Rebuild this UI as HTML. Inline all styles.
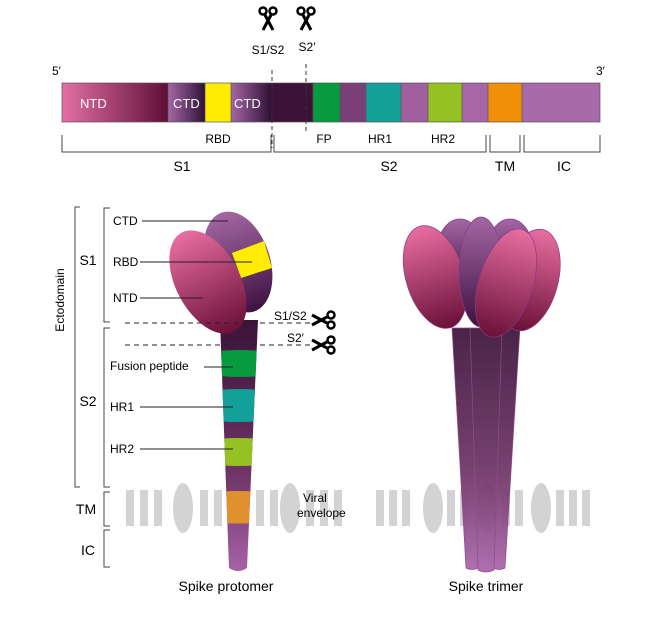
<!DOCTYPE html>
<html><head><meta charset="utf-8"><style>
html,body{margin:0;padding:0;background:#fff;}
svg{display:block;font-family:"Liberation Sans",sans-serif;}
</style></head><body>
<svg width="650" height="639" viewBox="0 0 650 639" xmlns="http://www.w3.org/2000/svg">
<defs>
<linearGradient id="ntd" x1="0" x2="1" y1="0" y2="0"><stop offset="0" stop-color="#e46fa6"/><stop offset="1" stop-color="#5e0f36"/></linearGradient>
<linearGradient id="ctd" x1="0" x2="1" y1="0" y2="0"><stop offset="0" stop-color="#a567a6"/><stop offset="1" stop-color="#301136"/></linearGradient>
<linearGradient id="pinkv" x1="0" x2="0" y1="0" y2="1"><stop offset="0" stop-color="#e86ea2"/><stop offset="1" stop-color="#6a1038"/></linearGradient>
<linearGradient id="purpv" x1="0" x2="0" y1="0" y2="1"><stop offset="0" stop-color="#a467a4"/><stop offset="1" stop-color="#3d1240"/></linearGradient>
<linearGradient id="stalk" x1="0" x2="0" y1="0" y2="1"><stop offset="0" stop-color="#3a1238"/><stop offset="0.6" stop-color="#6e3366"/><stop offset="1" stop-color="#a864a8"/></linearGradient>
<g id="sc" fill="none" stroke="#000" stroke-width="2.5">
<circle cx="-5" cy="-9" r="3.5"/><circle cx="5" cy="-9" r="3.5"/>
<path d="M-3 -5 L5 10 M3 -5 L-5 10" stroke-width="3"/>
</g>
</defs>

<!-- top linear map -->
<text x="52" y="75" font-size="12">5′</text>
<text x="596" y="75" font-size="12">3′</text>
<use href="#sc" transform="translate(268,20)"/>
<use href="#sc" transform="translate(306,20)"/>
<text x="268" y="54" font-size="12" text-anchor="middle">S1/S2</text>
<text x="307" y="51" font-size="12" text-anchor="middle">S2′</text>
<rect x="62" y="83" width="106" height="39" fill="url(#ntd)"/>
<rect x="168" y="83" width="37" height="39" fill="url(#ctd)"/>
<rect x="205" y="83" width="26" height="39" fill="#ffec00"/>
<rect x="231" y="83" width="40" height="39" fill="url(#ctd)"/>
<rect x="271" y="83" width="42" height="39" fill="#3d1238"/>
<rect x="313" y="83" width="27" height="39" fill="#079a3f"/>
<rect x="340" y="83" width="26" height="39" fill="#7a4078"/>
<rect x="366" y="83" width="35" height="39" fill="#12a099"/>
<rect x="401" y="83" width="27" height="39" fill="#a060a0"/>
<rect x="428" y="83" width="34" height="39" fill="#95c122"/>
<rect x="462" y="83" width="26" height="39" fill="#a866a6"/>
<rect x="488" y="83" width="34" height="39" fill="#f18f08"/>
<rect x="522" y="83" width="78" height="39" fill="#a86aa8"/>
<g stroke="#555" stroke-width="0.7" fill="none">
<rect x="62" y="83" width="538" height="39"/>
<path d="M168 83V122M205 83V122M231 83V122M313 83V122M340 83V122M366 83V122M401 83V122M428 83V122M462 83V122M488 83V122M522 83V122"/>
</g>
<text x="80" y="108" font-size="13" fill="#fff">NTD</text>
<text x="173" y="108" font-size="13" fill="#fff">CTD</text>
<text x="234" y="108" font-size="13" fill="#fff">CTD</text>
<g stroke="#333" stroke-width="1" stroke-dasharray="4,3"><path d="M272 70V148"/><path d="M306 64V132"/></g>
<g stroke="#444" stroke-width="1" fill="none">
<path d="M62 135V152H271V135"/>
<path d="M274 135V152H486V135"/>
<path d="M490 135V152H520V135"/>
<path d="M524 135V152H600V135"/>
</g>
<text x="218" y="143" font-size="12" text-anchor="middle">RBD</text>
<text x="324" y="143" font-size="12" text-anchor="middle">FP</text>
<text x="380" y="143" font-size="12" text-anchor="middle">HR1</text>
<text x="443" y="143" font-size="12" text-anchor="middle">HR2</text>
<text x="182" y="171" font-size="14" text-anchor="middle">S1</text>
<text x="389" y="171" font-size="14" text-anchor="middle">S2</text>
<text x="505" y="171" font-size="14" text-anchor="middle">TM</text>
<text x="564" y="171" font-size="14" text-anchor="middle">IC</text>

<!-- protomer membrane -->
<g fill="#d3d3d3">
<rect x="126" y="490" width="8" height="36"/><rect x="140" y="490" width="8" height="36"/><rect x="154" y="490" width="8" height="36"/>
<ellipse cx="183" cy="508" rx="10" ry="25"/>
<rect x="200" y="490" width="8" height="36"/><rect x="214" y="490" width="8" height="36"/>
<rect x="256" y="490" width="8" height="36"/><rect x="270" y="490" width="8" height="36"/>
<ellipse cx="290" cy="508" rx="10" ry="25"/>
<rect x="306" y="490" width="8" height="36"/><rect x="320" y="490" width="8" height="36"/><rect x="334" y="490" width="8" height="36"/>
</g>
<!-- protomer stalk -->
<clipPath id="stk"><path d="M220 320 L258 320 L247 568 Q238 574 229 568 Z"/></clipPath>
<g clip-path="url(#stk)">
<rect x="210" y="315" width="60" height="260" fill="url(#stalk)"/>
<path d="M210 352 Q238 348 270 352 V375 Q238 379 210 375Z" fill="#079a3f"/>
<path d="M210 391 Q238 387 270 391 V420 Q238 424 210 420Z" fill="#12a099"/>
<path d="M210 440 Q238 436 270 440 V464 Q238 468 210 464Z" fill="#95c122"/>
<path d="M210 493 Q238 489 270 493 V522 Q238 525 210 522Z" fill="#e0902e"/>
</g>
<!-- protomer head -->
<ellipse cx="238" cy="262" rx="32" ry="52" transform="rotate(-18 238 262)" fill="url(#purpv)"/>
<path d="M232 253 L264 241 L272 268 L241 278 Z" fill="#ffec00"/>
<ellipse cx="208" cy="282" rx="32" ry="56" transform="rotate(-28 208 282)" fill="url(#pinkv)"/>
<g stroke="#222" stroke-width="1">
<path d="M142 221H228"/><path d="M140 262H252"/><path d="M140 298H203"/>
<path d="M204 367H233"/><path d="M140 407H233"/><path d="M140 449H233"/>
</g>
<g stroke="#222" stroke-width="1" stroke-dasharray="5,4"><path d="M125 323H312"/><path d="M125 345H312"/></g>
<text x="274" y="320" font-size="12">S1/S2</text>
<text x="287" y="342" font-size="12">S2′</text>
<use href="#sc" transform="translate(322,320) rotate(90)"/>
<use href="#sc" transform="translate(322,345) rotate(90)"/>
<text x="113" y="225" font-size="12">CTD</text>
<text x="113" y="266" font-size="12">RBD</text>
<text x="113" y="302" font-size="12">NTD</text>
<text x="110" y="370" font-size="12">Fusion peptide</text>
<text x="110" y="411" font-size="12">HR1</text>
<text x="110" y="453" font-size="12">HR2</text>
<text x="303" y="502" font-size="12">Viral</text>
<text x="297" y="517" font-size="12">envelope</text>
<g stroke="#444" stroke-width="1" fill="none">
<path d="M80 207H75V487H80"/>
<path d="M110 208H104V322H110"/>
<path d="M110 328H104V487H110"/>
<path d="M110 492H104V526H110"/>
<path d="M110 530H104V567H110"/>
</g>
<text transform="translate(64,300) rotate(-90)" font-size="12" text-anchor="middle">Ectodomain</text>
<text x="88" y="265" font-size="14" text-anchor="middle">S1</text>
<text x="88" y="406" font-size="14" text-anchor="middle">S2</text>
<text x="86" y="514" font-size="14" text-anchor="middle">TM</text>
<text x="88" y="555" font-size="14" text-anchor="middle">IC</text>
<text x="226" y="591" font-size="14" text-anchor="middle">Spike protomer</text>

<!-- trimer -->
<g fill="#d3d3d3">
<rect x="376" y="490" width="8" height="36"/><rect x="389" y="490" width="8" height="36"/><rect x="402" y="490" width="8" height="36"/>
<ellipse cx="433" cy="508" rx="10" ry="25"/>
<rect x="447" y="490" width="8" height="36"/><rect x="460" y="490" width="8" height="36"/>
<ellipse cx="487" cy="508" rx="10" ry="25"/>
<rect x="502" y="490" width="8" height="36"/><rect x="515" y="490" width="8" height="36"/>
<ellipse cx="541" cy="508" rx="10" ry="25"/>
<rect x="556" y="490" width="8" height="36"/><rect x="569" y="490" width="8" height="36"/><rect x="582" y="490" width="8" height="36"/>
</g>
<g stroke="#8a3a8a" stroke-width="0.7" fill="url(#stalk)" opacity="0.92">
<path d="M452 328 L472 328 L478 568 Q472 571 466 568 Z"/>
<path d="M498 328 L520 328 L505 568 Q499 571 493 568 Z"/>
<path d="M470 328 L502 328 L494 570 Q486 574 478 570 Z"/>
</g>
<g stroke="#8a3a8a" stroke-width="0.7">
<ellipse cx="460" cy="255" rx="24" ry="36" fill="url(#purpv)"/>
<ellipse cx="510" cy="255" rx="24" ry="36" fill="url(#purpv)"/>
<ellipse cx="435" cy="277" rx="29" ry="53" transform="rotate(-17 435 277)" fill="url(#pinkv)"/>
<ellipse cx="530" cy="280" rx="28" ry="52" transform="rotate(15 530 280)" fill="url(#pinkv)"/>
<ellipse cx="481" cy="272" rx="22" ry="55" fill="url(#purpv)"/>
<ellipse cx="506" cy="283" rx="27" ry="56" transform="rotate(17 506 283)" fill="url(#pinkv)"/>
</g>
<text x="486" y="591" font-size="14" text-anchor="middle">Spike trimer</text>
</svg>
</body></html>
